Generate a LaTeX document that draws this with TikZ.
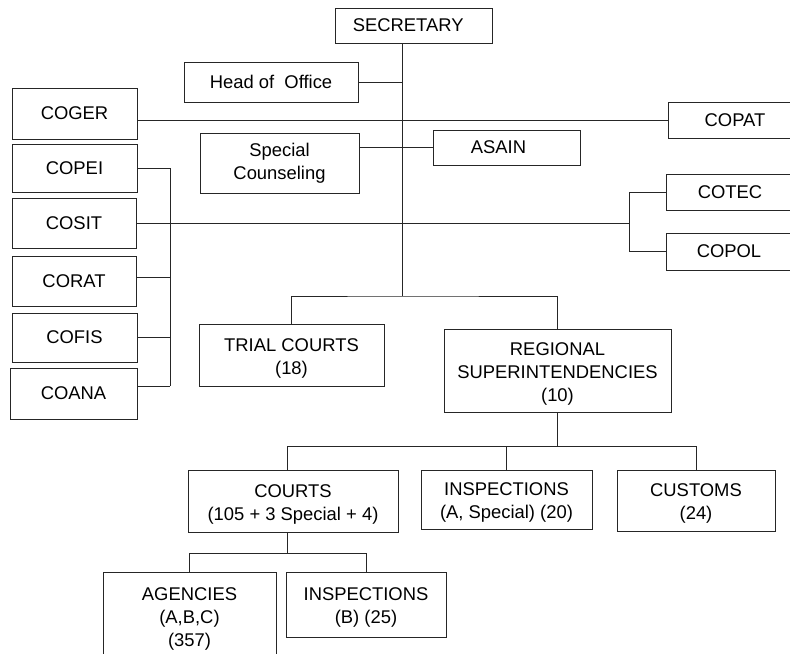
\documentclass[tikz,border=0pt]{standalone}
\usepackage{fontspec}
\setmainfont{Liberation Sans}
% taller first line, lowers the block of text a little
\newcommand\firstline{\rule{0pt}{14.5pt}}
\begin{document}
\begin{tikzpicture}[x=0.75pt,y=-0.75pt,
  box/.style={draw=black!85, line width=0.75pt, inner sep=0pt, align=center,
    font=\fontsize{13.8pt}{17.25pt}\selectfont},
  size/.style 2 args={minimum width=#1*0.75pt, minimum height=#2*0.75pt},
  link/.style={draw=black!85, line width=0.75pt}]
\useasboundingbox (0,0) rectangle (790,654);

% top level
\node[box, size={157}{35}] (sec) at (413.5,25.5) {SECRETARY\hspace*{8pt}};
\node[box, size={174}{40}] (hoo) at (271,82) {Head of\ \ Office};
\node[box, size={125}{51}] (coger) at (74.5,113.5) {COGER};
\node[box, size={134}{36}] (copat) at (735,120) {COPAT};
\node[box, size={159}{60}] (sc) at (279.5,163) {Special\\Counseling};
\node[box, size={147}{35}] (asain) at (506.5,147.5) {ASAIN\hspace*{12pt}};

% left column of coordinators
\node[box, size={125}{48}] (copei) at (74.5,168) {COPEI};
\node[box, size={124}{50}] (cosit) at (74,223) {COSIT};
\node[box, size={124}{50}] (corat) at (74,281) {CORAT};
\node[box, size={125}{49}] (cofis) at (74.5,337.5) {COFIS};
\node[box, size={127}{51}] (coana) at (73.5,393.5) {COANA};

% right coordinators
\node[box, size={128}{36}] (cotec) at (730,192) {COTEC};
\node[box, size={126}{37}] (copol) at (729,251.5) {COPOL};

% lower levels
\node[box, size={185}{62}] (trial) at (291.5,355) {\firstline TRIAL COURTS\\(18)};
\node[box, size={227}{83}] (regional) at (557.5,370.5) {\firstline REGIONAL\\SUPERINTENDENCIES\\(10)};
\node[box, size={210}{62}] (courts) at (293,501) {\firstline COURTS\\(105 + 3 Special + 4)};
\node[box, size={171}{59}] (insA) at (506.5,499.5) {\firstline INSPECTIONS\\(A, Special) (20)};
\node[box, size={158}{61}] (customs) at (696,500.5) {\firstline CUSTOMS\\(24)};
\node[box, size={173}{88}] (agencies) at (189.5,616) {\firstline AGENCIES\\(A,B,C)\\(357)};
\node[box, size={160}{65}] (insB) at (366,604.5) {\firstline INSPECTIONS\\(B) (25)};

% junction points
\coordinate (j) at (402,296);
\coordinate (lbus) at (170,0);
\coordinate (rb) at (629,223);
\path (regional.south) ++(0,34) coordinate (k);
\path ([shift={(0,-7.5)}]coana.east) coordinate (lbot);
\path ([shift={(0,-4)}]corat.east) coordinate (lcor);

% main trunk and side branches
\draw[link] (sec.south -| j) -- (j);
\draw[link] (hoo.east) -- (hoo.east -| j);
\draw[link] (copat.west -| coger.east) -- (copat.west);
\draw[link] (asain.west -| sc.east) -- (asain.west);
\draw[link] (cosit.east) -- (rb);
\draw[link] (cotec.west) -| (copol.west -| rb) -- (copol.west);

% left bracket
\draw[link] (copei.east) -- (copei.east -| lbus);
\draw[link] (lcor) -- (lcor -| lbus);
\draw[link] (cofis.east) -- (cofis.east -| lbus);
\draw[link] (lbot) -- (lbot -| lbus);
\draw[link] (copei.east -| lbus) -- (lbot -| lbus);

% courts and superintendencies
\draw[link] (trial.north) |- (j) -| (regional.north);
\draw[link] (regional.south) -- (k);
\draw[link] ([shift={(-6,0)}]courts.north) |- (k) -| (customs.north);
\draw[link] (insA.north) -- (insA.north |- k);
\draw[link] ([shift={(-6,0)}]courts.south) -- ++(0,21) coordinate (m);
\draw[link] (agencies.north) |- (m) -| (insB.north);
\end{tikzpicture}
\end{document}
